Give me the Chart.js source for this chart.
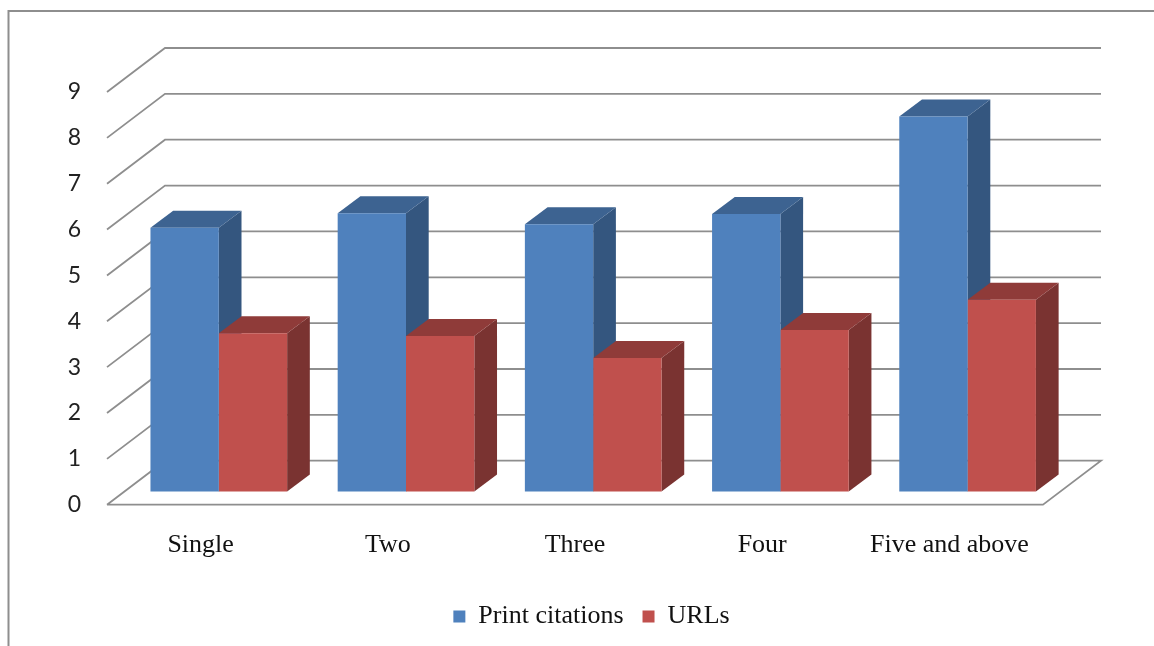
<!DOCTYPE html>
<html>
<head>
<meta charset="utf-8">
<title>Citations chart</title>
<script src="https://cdn.jsdelivr.net/npm/chart.js@4/dist/chart.umd.min.js"></script>
<style>
html, body { margin: 0; padding: 0; background: #fff; }
#wrap { width: 1154px; height: 646px; }
</style>
</head>
<body>
<div id="wrap"><canvas id="chart"></canvas></div>
<script>
const categories = ['Single', 'Two', 'Three', 'Four', 'Five and above']
const printCitations = [5.75, 6.07, 5.83, 6.05, 8.18]
const urls = [3.45, 3.39, 2.91, 3.52, 4.18]
const yTicks = [0, 1, 2, 3, 4, 5, 6, 7, 8, 9]

const gridColor = '#8e8e8e'

// wall and floor of the fake 3d box
const wallDx = 58, wallDy = -44
// bars stand a bit inside the box, this is where their front face goes
const barDx = 18.2, barDy = -13.2
const sideDx = 22.7, sideDy = -17

const sideColors = ['#34567f', '#7a3331']
const topColors = ['#3d6391', '#8f3b39']

function poly(ctx, pts, color) {
    ctx.fillStyle = color
    ctx.beginPath()
    pts.forEach((p, i) => i ? ctx.lineTo(p[0], p[1]) : ctx.moveTo(p[0], p[1]))
    ctx.closePath()
    ctx.fill()
}

const box3d = {
    id: 'box3d',
    afterLayout(chart) {
        // the legend sits off centre in the reference
        const lg = chart.legend
        const sx = 70, sy = 612 - (lg.top + lg.bottom) / 2
        lg.left += sx; lg.right += sx
        lg.top += sy; lg.bottom += sy
    },
    beforeDraw(chart) {
        const ctx = chart.ctx
        ctx.save()
        ctx.strokeStyle = gridColor
        ctx.lineWidth = 2
        ctx.beginPath()
        ctx.moveTo(8.5, 646)
        ctx.lineTo(8.5, 11)
        ctx.lineTo(1154, 11)
        ctx.stroke()
        ctx.restore()
    },
    beforeDatasetsDraw(chart) {
        const ctx = chart.ctx
        const { left, right } = chart.chartArea
        const y = chart.scales.y
        ctx.save()
        ctx.strokeStyle = gridColor
        ctx.lineWidth = 1.8
        yTicks.forEach(v => {
            const py = y.getPixelForValue(v)
            ctx.beginPath()
            ctx.moveTo(left, py)
            ctx.lineTo(left + wallDx, py + wallDy)
            ctx.lineTo(right + wallDx, py + wallDy)
            if (v === 0) {
                ctx.lineTo(right, py)
                ctx.lineTo(left, py)
            }
            ctx.stroke()
        })

        // side and top of each bar, the library paints the fronts after this
        ctx.translate(barDx, barDy)
        categories.forEach((c, i) => {
            chart.data.datasets.forEach((ds, d) => {
                const b = chart.getDatasetMeta(d).data[i]
                const x0 = b.x - b.width / 2, x1 = b.x + b.width / 2
                const top = b.y, bottom = b.base
                poly(ctx, [[x1, top], [x1 + sideDx, top + sideDy], [x1 + sideDx, bottom + sideDy], [x1, bottom]], sideColors[d])
                poly(ctx, [[x0, top], [x0 + sideDx, top + sideDy], [x1 + sideDx, top + sideDy], [x1, top]], topColors[d])
            })
        })
    },
    afterDatasetsDraw(chart) {
        chart.ctx.restore()
    }
}

new Chart(document.getElementById('chart'), {
    type: 'bar',
    data: {
        labels: categories,
        datasets: [
            { label: 'Print citations', data: printCitations, backgroundColor: '#4f81bd', clip: false },
            { label: 'URLs', data: urls, backgroundColor: '#c0504d', clip: false }
        ]
    },
    plugins: [box3d],
    options: {
        responsive: true,
        maintainAspectRatio: false,
        animation: false,
        categoryPercentage: 0.73,
        barPercentage: 1,
        layout: { padding: { left: 0, right: 111, top: 92, bottom: 0 } },
        scales: {
            x: {
                grid: { display: false, drawTicks: false },
                border: { display: false },
                afterFit(scale) { scale.height = 141.3 - scale.chart.legend.height },
                ticks: {
                    padding: 25,
                    maxRotation: 0,
                    autoSkip: false,
                    color: '#111',
                    font: { family: '"Liberation Serif"', size: 26 }
                }
            },
            y: {
                min: 0,
                max: 9,
                grid: { display: false, drawTicks: false },
                border: { display: false },
                afterFit(scale) { scale.width = 107 },
                ticks: {
                    stepSize: 1,
                    padding: 26,
                    color: '#222',
                    font: { family: 'Lato', size: 23 }
                }
            }
        },
        plugins: {
            tooltip: { enabled: false },
            legend: {
                position: 'bottom',
                labels: {
                    boxWidth: 12,
                    boxHeight: 12,
                    padding: 19,
                    color: '#111',
                    font: { family: '"Liberation Serif"', size: 26 }
                }
            }
        }
    }
})
</script>
</body>
</html>
